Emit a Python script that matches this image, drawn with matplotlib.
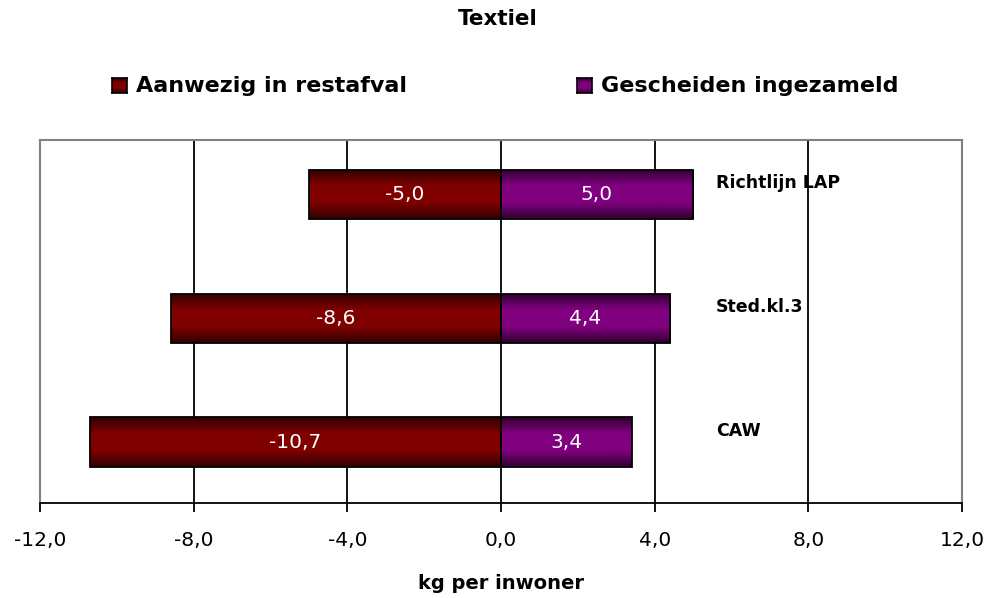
import numpy as np
import matplotlib
matplotlib.use("Agg")
import matplotlib.pyplot as plt
from matplotlib.colors import LinearSegmentedColormap
from matplotlib.patches import Rectangle

plt.rcParams["font.family"] = ["DejaVu Sans"]

categories = ["Richtlijn LAP", "Sted.kl.3", "CAW"]
restafval = [-5.0, -8.6, -10.7]
gescheiden = [5.0, 4.4, 3.4]
ticks = [-12, -8, -4, 0, 4, 8, 12]
legend_labels = ["Aanwezig in restafval", "Gescheiden ingezameld"]


def fmt(v):
    return f"{v:.1f}".replace(".", ",")


def gradient_cmap(mid, edge):
    return LinearSegmentedColormap.from_list("g", [edge, mid, mid, edge])


red_cmap = gradient_cmap("#800000", "#300000")
purple_cmap = gradient_cmap("#800080", "#300030")

fig = plt.figure(figsize=(9.91, 5.98), dpi=100)
ax = fig.add_axes([40 / 991, 95 / 598, 922 / 991, 363 / 598])

ypos = np.arange(len(categories))[::-1]
h = 0.40
grad = np.linspace(0, 1, 256).reshape(-1, 1)

for y, left, right, cat in zip(ypos, restafval, gescheiden, categories):
    for x0, x1, cmap in [(left, 0, red_cmap), (0, right, purple_cmap)]:
        lo, hi = min(x0, x1), max(x0, x1)
        im = ax.imshow(grad, cmap=cmap, aspect="auto", extent=[lo, hi, y - h / 2, y + h / 2],
                       zorder=3, interpolation="bilinear")
        rect = Rectangle((lo, y - h / 2), hi - lo, h, facecolor="none",
                         edgecolor="black", linewidth=1.3, zorder=4)
        ax.add_patch(rect)
        im.set_clip_path(rect)
        val = x0 if x0 != 0 else x1
        ax.text((lo + hi) / 2, y, fmt(val), color="white", ha="center", va="center",
                fontsize=14.5, zorder=5)
    ax.text(5.6, y + 0.09, cat, ha="left", va="center", fontsize=12.5,
            fontweight="bold", zorder=5)

ax.set_xlim(-12, 12)
ax.set_ylim(-0.492, 2.44)
ax.set_xticks(ticks)
ax.set_xticklabels([fmt(t) for t in ticks], fontsize=14.5)
ax.set_yticks([])
ax.grid(True, axis="x", color="black", linewidth=1.3, zorder=1)
ax.set_axisbelow(True)
for s in ["left", "right", "top"]:
    ax.spines[s].set_color("#808080")
    ax.spines[s].set_linewidth(1.5)
ax.spines["bottom"].set_color("black")
ax.spines["bottom"].set_linewidth(1.3)
ax.tick_params(axis="x", length=6.5, width=1.3, pad=14, direction="out")
ax.set_xlabel("kg per inwoner", fontsize=14, fontweight="bold", labelpad=17)

fig.text(498 / 991, 1 - 19 / 598, "Textiel", ha="center", va="center",
         fontsize=15.5, fontweight="bold")

# legend
for xm, label, cmap in [(112, legend_labels[0], red_cmap),
                        (577, legend_labels[1], purple_cmap)]:
    lax = fig.add_axes([xm / 991, 1 - 93 / 598, 15 / 991, 15 / 598])
    lax.imshow(grad, cmap=cmap, aspect="auto", extent=[0, 1, 0, 1], interpolation="bilinear")
    lax.set_xticks([])
    lax.set_yticks([])
    for s in lax.spines.values():
        s.set_linewidth(1.2)
    fig.text((xm + 24) / 991, 1 - 86 / 598, label, ha="left", va="center",
             fontsize=16, fontweight="bold")

fig.savefig("out.png", dpi=100)
